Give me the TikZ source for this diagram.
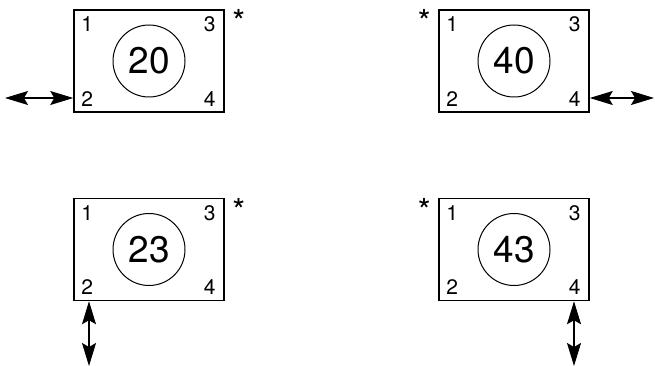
\documentclass[tikz,border=0pt]{standalone}
\usepackage{fontspec}
\setmainfont{TeX Gyre Heros}
\usetikzlibrary{arrows.meta,positioning}

\begin{document}
\begin{tikzpicture}[x=1pt,y=-1pt]
        \tikzset{
          panel/.style={draw,line width=1.5pt,minimum width=150pt,minimum height=102pt,inner sep=0pt},
          ring/.style={draw,circle,line width=1pt,minimum size=72pt,inner sep=0pt,font=\fontsize{37}{37}\selectfont},
          pin/.style={inner sep=0pt,font=\fontsize{21}{21}\selectfont},
          starmark/.style={inner sep=0pt,anchor=north,font=\fontsize{33}{33}\selectfont},
          lead/.style={{Stealth[length=23pt,width=14pt,inset=4pt]}-{Stealth[length=23pt,width=14pt,inset=4pt]},line width=1.3pt}
        }
        \useasboundingbox (0,0) rectangle (655,366);
        % upper left
        \node[panel] (p20) at (149,61) {};
        \node[ring] (c20) at (p20) {20};
        \node[pin] (p20a) at ([shift={(14pt,-15pt)}]p20.north west) {1};
        \node[pin] (p20b) at ([shift={(14pt,14pt)}]p20.south west) {2};
        \node[pin] (p20c) at ([shift={(-15pt,-15pt)}]p20.north east) {3};
        \node[pin] (p20d) at ([shift={(-15pt,14pt)}]p20.south east) {4};
        \node[starmark] (s20) at ([shift={(14pt,0pt)}]p20.north east) {*};
        \coordinate (e20) at (5,98);
        \draw[lead] (e20) -- (p20.west |- e20);
        % upper right
        \node[panel] (p40) at (514,61) {};
        \node[ring] (c40) at (p40) {40};
        \node[pin] (p40a) at ([shift={(14pt,-15pt)}]p40.north west) {1};
        \node[pin] (p40b) at ([shift={(14pt,14pt)}]p40.south west) {2};
        \node[pin] (p40c) at ([shift={(-15pt,-15pt)}]p40.north east) {3};
        \node[pin] (p40d) at ([shift={(-15pt,14pt)}]p40.south east) {4};
        \node[starmark] (s40) at ([shift={(-14pt,0pt)}]p40.north west) {*};
        \coordinate (e40) at (654,98);
        \draw[lead] (e40) -- (p40.east |- e40);
        % lower left
        \node[panel] (p23) at (149,249.5) {};
        \node[ring] (c23) at (p23) {23};
        \node[pin] (p23a) at ([shift={(14pt,-15pt)}]p23.north west) {1};
        \node[pin] (p23b) at ([shift={(14pt,14pt)}]p23.south west) {2};
        \node[pin] (p23c) at ([shift={(-15pt,-15pt)}]p23.north east) {3};
        \node[pin] (p23d) at ([shift={(-15pt,14pt)}]p23.south east) {4};
        \node[starmark] (s23) at ([shift={(14pt,0pt)}]p23.north east) {*};
        \coordinate (e23) at (89,366);
        \draw[lead] (e23) -- (e23 |- p23.south);
        % lower right
        \node[panel] (p43) at (514,249.5) {};
        \node[ring] (c43) at (p43) {43};
        \node[pin] (p43a) at ([shift={(14pt,-15pt)}]p43.north west) {1};
        \node[pin] (p43b) at ([shift={(14pt,14pt)}]p43.south west) {2};
        \node[pin] (p43c) at ([shift={(-15pt,-15pt)}]p43.north east) {3};
        \node[pin] (p43d) at ([shift={(-15pt,14pt)}]p43.south east) {4};
        \node[starmark] (s43) at ([shift={(-14pt,0pt)}]p43.north west) {*};
        \coordinate (e43) at (574,366);
        \draw[lead] (e43) -- (e43 |- p43.south);
      \end{tikzpicture}
\end{document}
